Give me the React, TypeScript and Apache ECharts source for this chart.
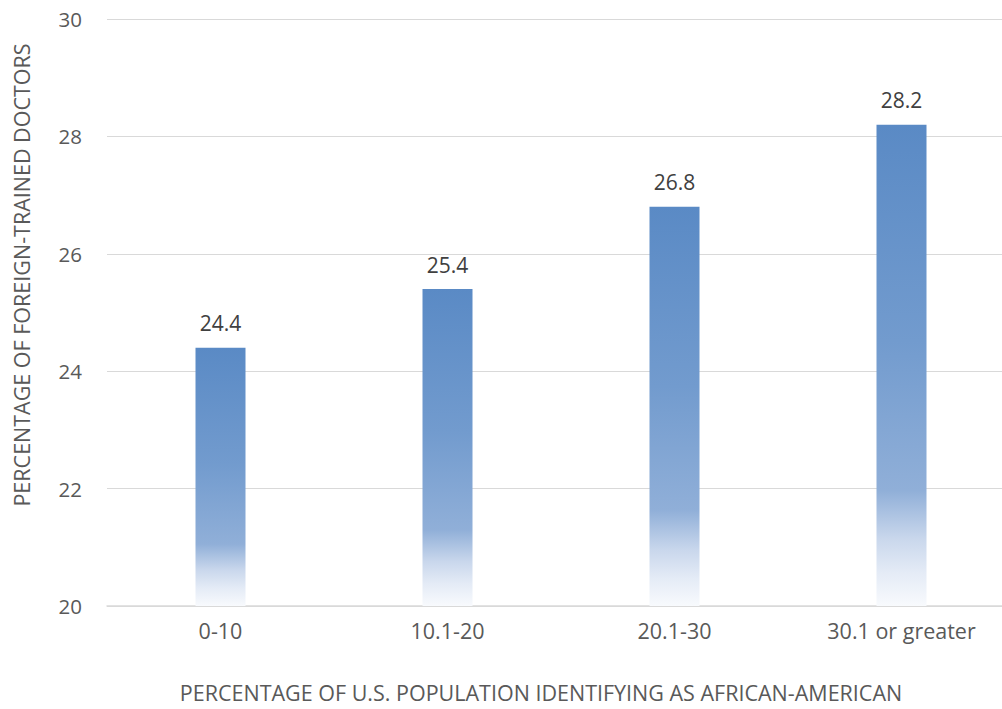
import React, { useEffect, useRef } from "react";
import * as echarts from "echarts";

// Share of the population identifying as African-American (bands)
const categories = ["0-10", "10.1-20", "20.1-30", "30.1 or greater"];
// Percentage of doctors who were trained abroad, per band
const foreignTrained = [24.4, 25.4, 26.8, 28.2];
// Value axis range and step
const yMin = 20;
const yMax = 30;
const yStep = 2;

const xTitle = "PERCENTAGE OF U.S. POPULATION IDENTIFYING AS AFRICAN-AMERICAN";
const yTitle = "PERCENTAGE OF FOREIGN-TRAINED DOCTORS";

const FONT = "'Open Sans', 'Noto Sans', sans-serif";

export default function App() {
  const ref = useRef<HTMLDivElement>(null);

  useEffect(() => {
    document.body.style.margin = "0";
    if (!ref.current) return;
    const chart = echarts.init(ref.current, null, { renderer: "svg" });

    const barFill = new echarts.graphic.LinearGradient(0, 0, 0, 1, [
      { offset: 0, color: "#5A8AC5" },
      { offset: 0.45, color: "#729BCE" },
      { offset: 0.76, color: "#90AFD8" },
      { offset: 0.86, color: "#C9D7EC" },
      { offset: 0.93, color: "#E4EBF6" },
      { offset: 1, color: "#F8FAFD" },
    ]);

    chart.setOption({
      animation: false,
      backgroundColor: "#FFFFFF",
      textStyle: { fontFamily: FONT },
      // the plot runs a little past the right edge of the visible frame
      grid: { left: 107, right: 0, top: 19, bottom: 103, containLabel: false },
      xAxis: {
        type: "category",
        data: categories,
        axisLine: { show: true, lineStyle: { color: "#D9D9D9", width: 1.5 } },
        axisTick: { show: false },
        axisLabel: { color: "#595959", fontSize: 21.5, margin: 13, fontFamily: FONT },
      },
      yAxis: {
        type: "value",
        min: yMin,
        max: yMax,
        interval: yStep,
        axisLine: { show: false },
        axisTick: { show: false },
        axisLabel: { color: "#595959", fontSize: 20.5, margin: 25, fontFamily: FONT },
        splitLine: { show: true, lineStyle: { color: "#D9D9D9", width: 1 } },
      },
      series: [
        {
          type: "bar",
          data: foreignTrained,
          barWidth: 50,
          itemStyle: { color: barFill },
          label: {
            show: true,
            position: "top",
            distance: 14,
            color: "#404040",
            fontSize: 21,
            fontFamily: FONT,
            formatter: (p: any) => p.value.toFixed(1),
          },
        },
      ],
      graphic: [
        {
          type: "text",
          x: 541,
          y: 692,
          style: {
            text: xTitle,
            fill: "#595959",
            fontSize: 21.5,
            fontFamily: FONT,
            textAlign: "center",
            textVerticalAlign: "middle",
          },
        },
        {
          type: "text",
          x: 21,
          y: 275,
          rotation: Math.PI / 2,
          style: {
            text: yTitle,
            fill: "#595959",
            fontSize: 21.5,
            fontFamily: FONT,
            textAlign: "center",
            textVerticalAlign: "middle",
          },
        },
      ],
    });

    return () => chart.dispose();
  }, []);

  return (
    <div style={{ width: 1002, height: 709, overflow: "hidden" }}>
      <div ref={ref} style={{ width: 1015, height: 709 }} />
    </div>
  );
}
